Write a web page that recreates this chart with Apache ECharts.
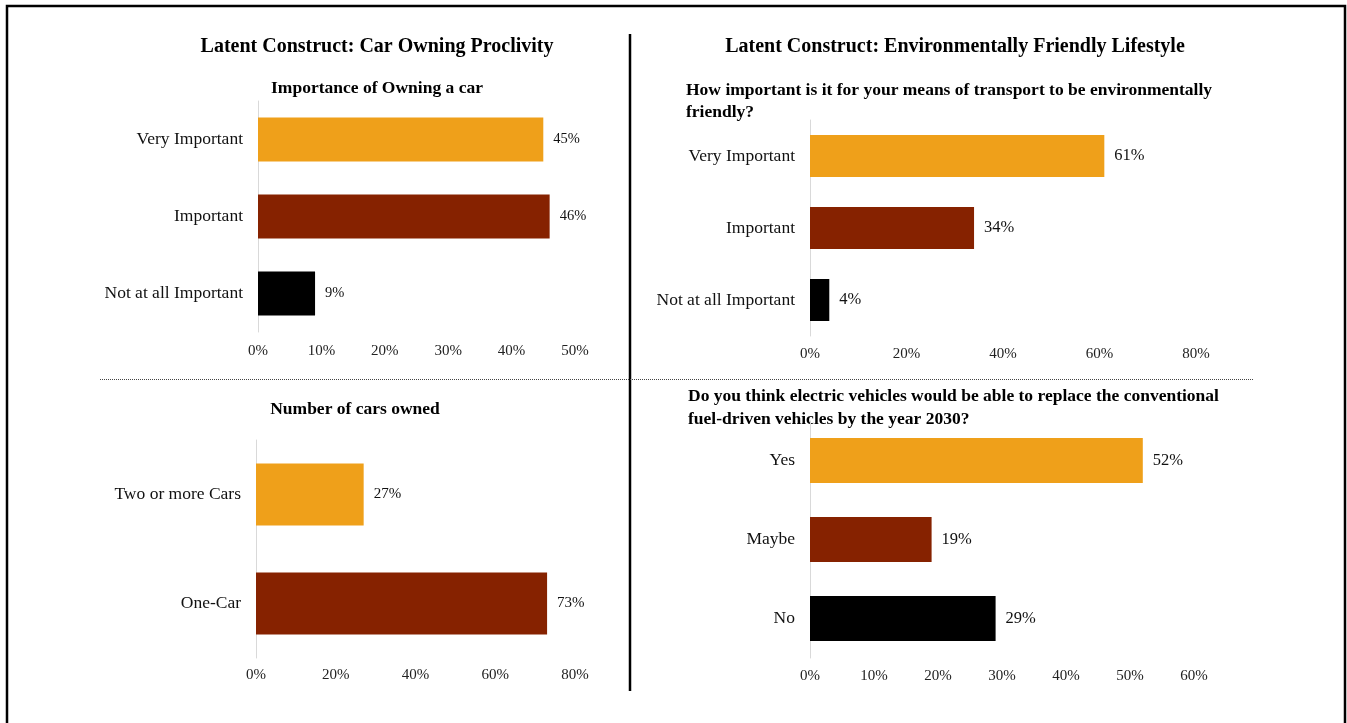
<!DOCTYPE html>
<html>
<head>
    <meta charset="utf-8">
    <title>Latent Constructs</title>
    <script src="https://cdn.jsdelivr.net/npm/echarts@6/dist/echarts.min.js"></script>
    <style>
        html, body { margin: 0; padding: 0; background: #fff; }
        #chart { width: 1347px; height: 723px; }
    </style>
</head>
<body>
<div id="chart"></div>
<script type="text/javascript">
    // data (percent)
    var ownCats = ['Very Important', 'Important', 'Not at all Important'];
    var ownValues = [45, 46, 9];

    var carsCats = ['Two or more Cars', 'One-Car'];
    var carsValues = [27, 73];

    var envCats = ['Very Important', 'Important', 'Not at all Important'];
    var envValues = [61, 34, 4];

    var evCats = ['Yes', 'Maybe', 'No'];
    var evValues = [52, 19, 29];

    // x axis ranges / tick steps
    var axisMax = [50, 80, 80, 60];
    var axisStep = [10, 20, 20, 10];

    var palette = ['#EFA01A', '#862200', '#000000'];
    var serif = '"Liberation Serif", "Times New Roman", serif';

    var myChart = echarts.init(document.getElementById('chart'));

    var grids = [
        { left: 258, top: 101, width: 317, height: 231 },
        { left: 810, top: 120, width: 386, height: 216 },
        { left: 256, top: 440, width: 319, height: 218 },
        { left: 810, top: 421, width: 384, height: 237 }
    ];
    var cats = [ownCats, envCats, carsCats, evCats];
    var vals = [ownValues, envValues, carsValues, evValues];
    var barW = [44, 42, 62, 45];
    var tickMargin = [12, 11, 10, 11];
    var catSize = [17.5, 17.5, 17.5, 17.5];
    var valSize = [14.5, 16.5, 15, 16.5];

    var xAxes = [], yAxes = [], series = [];
    for (var i = 0; i < 4; i++) {
        xAxes.push({
            type: 'value', gridIndex: i, min: 0, max: axisMax[i], interval: axisStep[i],
            axisLine: { show: false }, axisTick: { show: false }, splitLine: { show: false },
            axisLabel: { formatter: '{value}%', fontFamily: serif, fontSize: 15, color: '#222', margin: tickMargin[i] }
        });
        yAxes.push({
            type: 'category', gridIndex: i, data: cats[i], inverse: true,
            axisLine: { show: true, lineStyle: { color: '#d9d9d9', width: 1 } },
            axisTick: { show: false },
            axisLabel: { fontFamily: serif, fontSize: catSize[i], color: '#111', margin: 15 }
        });
        series.push({
            type: 'bar', xAxisIndex: i, yAxisIndex: i, barWidth: barW[i],
            data: vals[i].map(function (v, j) {
                return { value: v, itemStyle: { color: palette[j] } };
            }),
            label: { show: true, position: 'right', distance: 10, formatter: '{c}%',
                fontFamily: serif, fontSize: valSize[i], color: '#111' }
        });
    }

    function txt(x, y, text, size, align) {
        return {
            type: 'text', x: x, y: y,
            style: { text: text, font: 'bold ' + size + 'px ' + serif, fill: '#000',
                textAlign: align, textVerticalAlign: 'middle' }
        };
    }

    var graphics = [
        // frame
        { type: 'polyline', shape: { points: [[7, 730], [7, 6], [1345, 6], [1345, 730]] },
          style: { stroke: '#000', lineWidth: 2.5, fill: null } },
        // divider lines
        { type: 'line', shape: { x1: 630, y1: 34, x2: 630, y2: 691 }, style: { stroke: '#000', lineWidth: 2.5 } },
        { type: 'line', shape: { x1: 100, y1: 379.5, x2: 1253, y2: 379.5 }, style: { stroke: '#444', lineWidth: 1, lineDash: [1, 1] } },
        txt(377, 47, 'Latent Construct: Car Owning Proclivity', 20, 'center'),
        txt(955, 47, 'Latent Construct: Environmentally Friendly Lifestyle', 20, 'center'),
        txt(377, 88, 'Importance of Owning a car', 17.5, 'center'),
        txt(686, 90, 'How important is it for your means of transport to be environmentally', 17.5, 'left'),
        txt(686, 112, 'friendly?', 17.5, 'left'),
        txt(355, 409, 'Number of cars owned', 17.5, 'center'),
        txt(688, 396, 'Do you think electric vehicles would be able to replace the conventional', 17.5, 'left'),
        txt(688, 419, 'fuel-driven vehicles by the year 2030?', 17.5, 'left')
    ];

    myChart.setOption({
        animation: false,
        grid: grids,
        xAxis: xAxes,
        yAxis: yAxes,
        series: series,
        graphic: graphics
    });
</script>
</body>
</html>
